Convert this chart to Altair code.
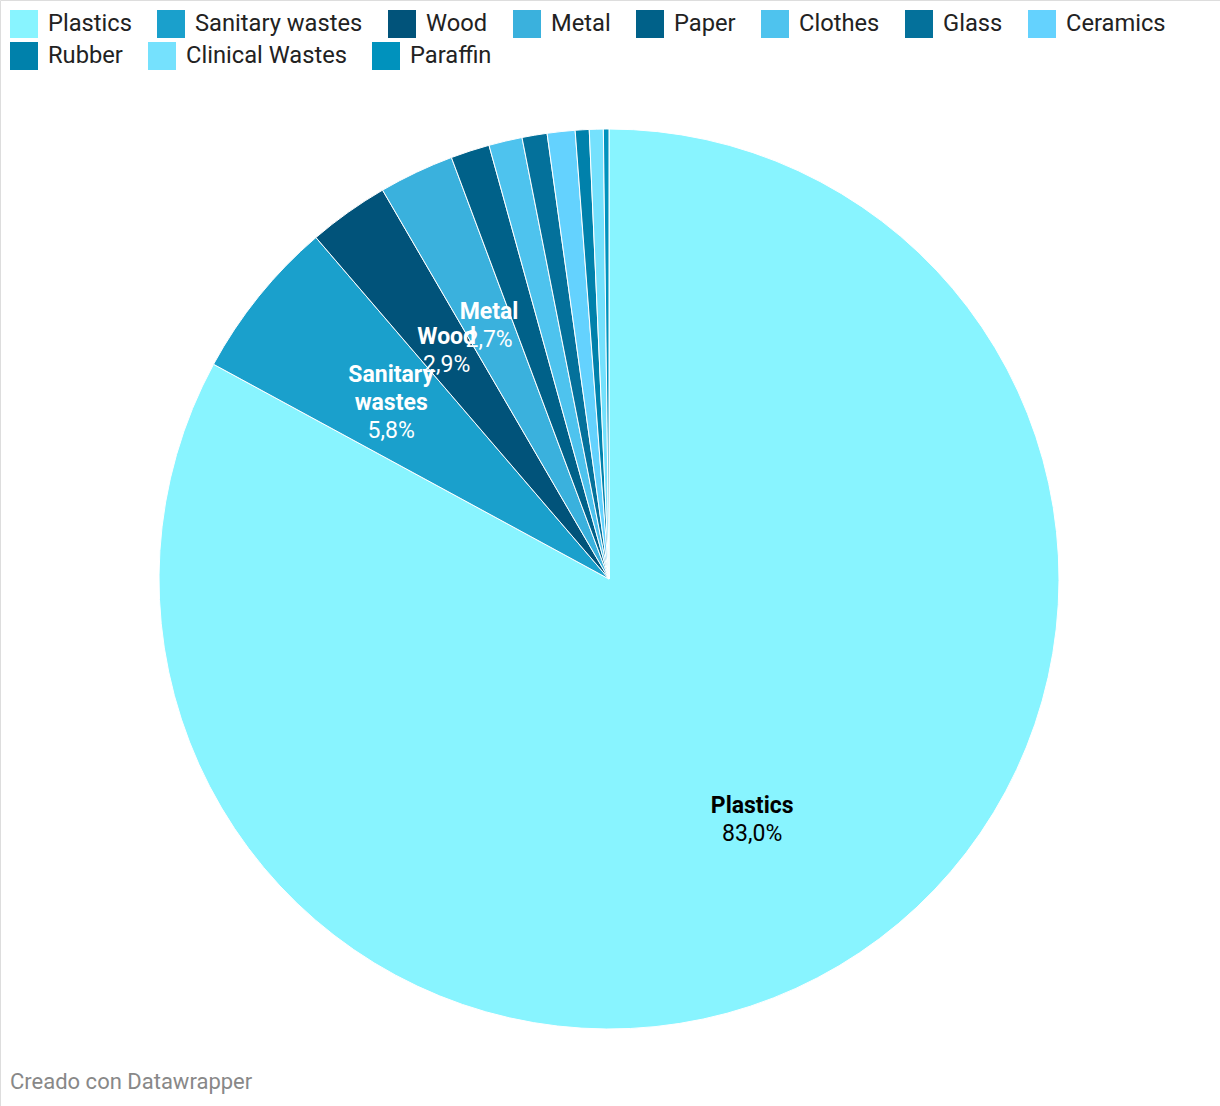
import altair as alt
import pandas as pd

categories = ["Plastics", "Sanitary wastes", "Wood", "Metal", "Paper", "Clothes",
              "Glass", "Ceramics", "Rubber", "Clinical Wastes", "Paraffin"]
values = [83.0, 5.8, 2.9, 2.7, 1.4, 1.2, 0.9, 1.0, 0.5, 0.5, 0.2]
colors = ["#88F4FF", "#1AA0CC", "#01537A", "#3AB1DD", "#006189", "#4EC3EE",
          "#04719B", "#64D2FE", "#0081AB", "#75E1FD", "#0092BD"]
# two-line labels (name + value)
label_names = ["Plastics", "", "Wood", "Metal", "", "", "", "", "", "", ""]
label_values = ["83,0%", "", "2,9%", "2,7%", "", "", "", "", "", "", ""]
# three-line labels (name on two lines + value)
label3_a = ["", "Sanitary", "", "", "", "", "", "", "", "", ""]
label3_b = ["", "wastes", "", "", "", "", "", "", "", "", ""]
label3_c = ["", "5,8%", "", "", "", "", "", "", "", "", ""]

legend_row1 = categories[:8]
legend_row2 = categories[8:]

df = pd.DataFrame({
    "category": categories,
    "value": values,
    "idx": list(range(len(categories))),
    "lname": label_names,
    "lvalue": label_values,
    "l3a": label3_a,
    "l3b": label3_b,
    "l3c": label3_c,
})

CX, CY, R, LR = 609, 579, 450, 280
FONT = "Roboto"
FS = 23

base = alt.Chart(df).encode(
    theta=alt.Theta("value:Q", stack=True),
    order=alt.Order("idx:Q", sort="ascending"),
    x=alt.value(CX),
    y=alt.value(CY),
)

arcs = base.mark_arc(radius=R, stroke="white", strokeWidth=1).encode(
    color=alt.Color(
        "category:N",
        scale=alt.Scale(domain=categories, range=colors),
        legend=None,
    )
)


def legend_layer(domain, rng, ly):
    return alt.Chart(df).transform_filter(
        alt.FieldOneOfPredicate(field="category", oneOf=domain)
    ).mark_square(opacity=0, size=1).encode(
        x=alt.value(0),
        y=alt.value(0),
        color=alt.Color(
            "category:N",
            scale=alt.Scale(domain=domain, range=rng),
            sort=domain,
            legend=alt.Legend(
                title=None,
                orient="none",
                legendX=10,
                legendY=ly,
                direction="horizontal",
                columns=len(domain),
                symbolType="square",
                symbolSize=784,
                symbolStrokeWidth=0,
                symbolOpacity=1,
                labelFont=FONT,
                labelFontSize=23.7,
                labelColor="#222222",
                labelOffset=10,
                columnPadding=25,
                padding=0,
                labelLimit=400,
            ),
        ),
    )


leg1 = legend_layer(legend_row1, colors[:8], 10)
leg2 = legend_layer(legend_row2, colors[8:], 42)

label_color = alt.condition(alt.datum.category == "Plastics", alt.value("#000000"), alt.value("#ffffff"))


def text_layer(field, dy, bold):
    return base.mark_text(
        radius=LR, font=FONT, fontSize=FS, fontWeight="bold" if bold else "normal",
        baseline="middle", align="center", dy=dy
    ).encode(text=f"{field}:N", color=label_color)


names = text_layer("lname", -14, True)
vals = text_layer("lvalue", 14, False)
n3a = text_layer("l3a", -28, True)
n3b = text_layer("l3b", 0, True)
n3c = text_layer("l3c", 28, False)

footer = alt.Chart(pd.DataFrame({"t": ["Creado con Datawrapper"]})).mark_text(
    font=FONT, fontSize=22, color="#888888", align="left", baseline="middle"
).encode(text="t:N", x=alt.value(10), y=alt.value(1082))

chart = alt.layer(arcs, leg1, leg2, names, vals, n3a, n3b, n3c, footer).resolve_scale(
    color="independent"
).properties(
    width=1220, height=1106, autosize=alt.AutoSizeParams(type="none"), padding=0
).configure_view(stroke="transparent", strokeWidth=0).configure(background="white")

chart.save("out.html", embed_options={"renderer": "svg", "actions": False})
